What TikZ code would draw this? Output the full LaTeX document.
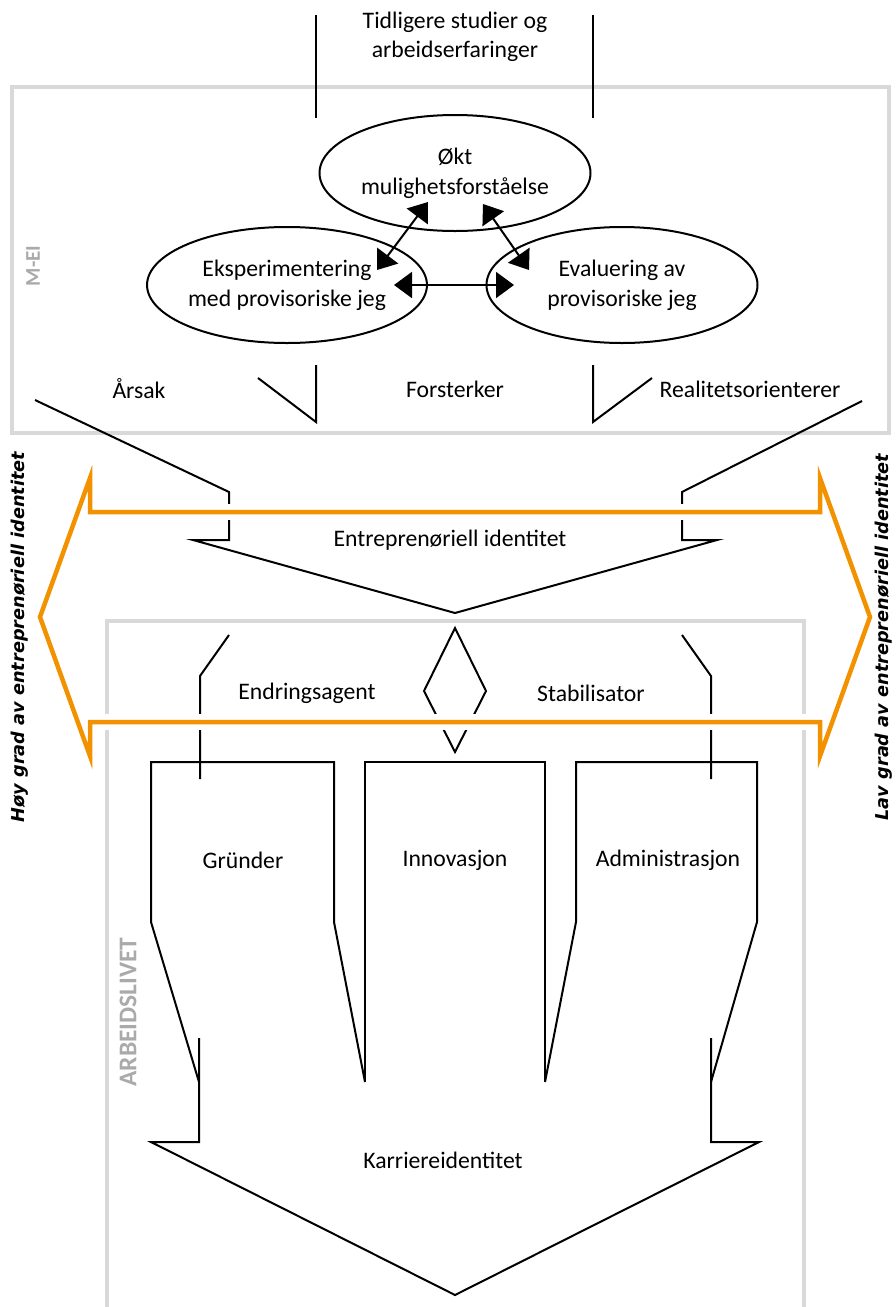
\documentclass[tikz,border=0pt]{standalone}
\usepackage{fontspec}
\setmainfont{Carlito}
\newfontfamily\dejavu{DejaVu Sans}
\usetikzlibrary{shapes.geometric,arrows.meta}
\definecolor{boxgrey}{RGB}{217,217,217}
\definecolor{labgrey}{RGB}{170,170,170}
\definecolor{orng}{RGB}{243,146,0}
\begin{document}
\begin{tikzpicture}[x=1pt,y=-1pt,
  txt/.style={font=\fontsize{23.7}{29}\selectfont, align=center, inner sep=0pt},
  bl/.style={line width=2pt, black},
  gbox/.style={line width=4.5pt, boxgrey},
  oline/.style={line width=4.5pt, orng, line join=miter},
  halo/.style={line width=16pt, white},
  bubble/.style={ellipse, draw, line width=2pt, minimum width=271pt, minimum height=116pt, inner sep=0pt, align=center, font=\fontsize{23.7}{30}\selectfont},
  dbl/.style={line width=2pt, {Triangle[length=18pt,width=26pt]}-{Triangle[length=18pt,width=26pt]}},
  side/.style={font=\dejavu\bfseries\itshape\fontsize{17.7}{20}\selectfont, rotate=90, inner sep=0pt},
  glab/.style={font=\bfseries, text=labgrey, rotate=90, inner sep=0pt}
]
\useasboundingbox (0,0) rectangle (896,1307);
% grey frames
\draw[gbox] (12,87) rectangle (889,433);
\draw[gbox] (107,1307) -- (107,621) -- (804,621) -- (804,1307);
\node[glab, font=\bfseries\fontsize{21}{24}\selectfont] (mei) at (33,266) {M-EI};
\node[glab, font=\bfseries\fontsize{25.5}{28}\selectfont] (arb) at (128,1012) {ARBEIDSLIVET};
% top input
\node[txt] (prior) at (455,37) {Tidligere studier og\\arbeidserfaringer};
\coordinate (pl1) at (316,15); \coordinate (pl2) at (316,118);
\coordinate (pr1) at (593,15); \coordinate (pr2) at (593,118);
\draw[bl] (pl1) -- (pl2);
\draw[bl] (pr1) -- (pr2);
% ellipses
\node[bubble] (okt) at (455,173) {Økt\\mulighetsforståelse};
\node[bubble] (eksp) at (287,285) {Eksperimentering\\med provisoriske jeg};
\node[bubble] (eval) at (622,285) {Evaluering av\\provisoriske jeg};
\coordinate (a1) at (428,202); \coordinate (a2) at (377,270);
\coordinate (b1) at (483,204); \coordinate (b2) at (529,270);
\coordinate (c1) at (394,285); \coordinate (c2) at (514,285);
\draw[dbl] (a1) -- (a2);
\draw[dbl] (b1) -- (b2);
\draw[dbl] (c1) -- (c2);
% labels in M-EI
\node[txt] (arsak) at (139,389) {Årsak};
\node[txt] (forst) at (455,389) {Forsterker};
\node[txt] (real) at (750,389) {Realitetsorienterer};
\draw[bl] (316,365) -- (316,422) -- (258,378);
\draw[bl] (593,365) -- (593,422) -- (652,378);
% entrepreneurial identity arrow
\draw[bl, line join=miter] (35,400) -- (229,492) -- (229,540) -- (193,540) -- (455,613) -- (717,540) -- (682,540) -- (682,492) -- (862,401);
\node[txt] (entid) at (450,540) {Entreprenøriell identitet};
% working life
\draw[bl] (229,635) -- (200,676) -- (200,779);
\draw[bl] (682,635) -- (711,676) -- (711,779);
\draw[bl] (424,691) -- (455,628) -- (486,691) -- (455,752) -- cycle;
\node[txt] (agent) at (307,693) {Endringsagent};
\node[txt] (stab) at (591,693) {Stabilisator};
\draw[bl] (365,1082) -- (334,922) -- (334,762) -- (151,762) -- (151,922) -- (199,1082);
\draw[bl] (365,1082) -- (365,762) -- (545,762) -- (545,1082);
\draw[bl] (545,1082) -- (576,922) -- (576,762) -- (757,762) -- (757,922) -- (711,1082);
\node[txt] (grund) at (243,860) {Gründer};
\node[txt] (innov) at (455,860) {Innovasjon};
\node[txt] (admin) at (668,860) {Administrasjon};
\draw[bl, line join=miter] (199,1038) -- (199,1142) -- (151,1142) -- (455,1295) -- (759,1142) -- (711,1142) -- (711,1038);
\node[txt] (karr) at (443,1160) {Karriereidentitet};
% orange double arrow
\draw[halo] (92,512) -- (818,512);
\draw[halo] (92,722) -- (818,722);
\draw[oline] (820,512) -- (90,512) -- (90,478) -- (40,617) -- (90,756) -- (90,722) -- (820,722) -- (820,756) -- (870,617) -- (820,478) -- cycle;
\node[side] (high) at (20,637) {Høy grad av entreprenøriell identitet};
\node[side] (low) at (884,637) {Lav grad av entreprenøriell identitet};
\end{tikzpicture}
\end{document}
